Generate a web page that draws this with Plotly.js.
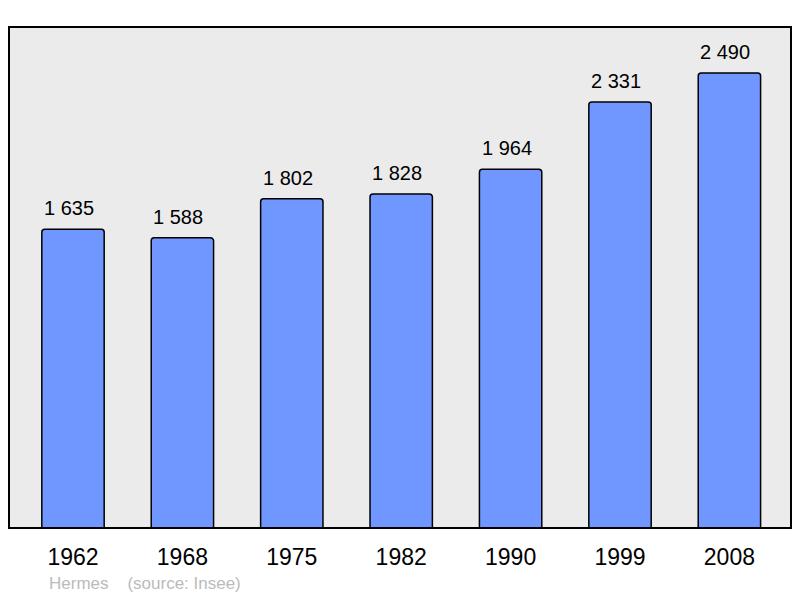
<!DOCTYPE html>
<html>
<head>
<meta charset="utf-8">
<script src="https://cdn.plot.ly/plotly-3.0.1.min.js"></script>
<style>html,body{margin:0;padding:0;background:#fff;}#chart{width:800px;height:598px;}</style>
</head>
<body>
<div id="chart"></div>
<script>
var years = ["1962", "1968", "1975", "1982", "1990", "1999", "2008"];
var population = [1635, 1588, 1802, 1828, 1964, 2331, 2490];
var valueLabels = ["1 635", "1 588", "1 802", "1 828", "1 964", "2 331", "2 490"];

var idx = years.map(function(_, i){ return i; });

var trace = {
  type: 'bar',
  x: idx,
  y: population,
  width: 0.57,
  marker: {color: '#7097ff', line: {color: '#000', width: 1.5}},
  hoverinfo: 'none'
};

var annotations = idx.map(function(i){
  return {x: i, y: population[i], xref: 'x', yref: 'y', text: valueLabels[i],
    showarrow: false, yanchor: 'bottom', yshift: 8, xshift: -4,
    font: {family: 'Liberation Sans, Arial, sans-serif', size: 20, color: '#000'}};
});
annotations.push({xref: 'paper', yref: 'paper', x: 0.0485, y: -0.1115, xanchor: 'left', yanchor: 'middle',
  text: 'Hermes\u00a0\u00a0\u00a0\u00a0(source: Insee)', showarrow: false,
  font: {family: 'Liberation Sans, Arial, sans-serif', size: 17, color: '#bbbbbb'}});

var layout = {
  width: 800, height: 598,
  margin: {l: 9, r: 9, t: 27, b: 70},
  paper_bgcolor: '#ffffff',
  plot_bgcolor: '#ebebeb',
  showlegend: false,
  barcornerradius: 3,
  xaxis: {
    range: [-0.585, 6.563],
    tickmode: 'array', tickvals: idx, ticktext: years,
    ticks: 'outside', ticklen: 8, tickcolor: 'rgba(0,0,0,0)',
    showgrid: false, zeroline: false, showline: false,
    tickfont: {family: 'Liberation Sans, Arial, sans-serif', size: 23, color: '#000'},
    fixedrange: true
  },
  yaxis: {
    range: [0, 2742],
    showticklabels: false, showgrid: false, zeroline: false, showline: false, ticks: '',
    fixedrange: true
  },
  shapes: [{type: 'rect', xref: 'paper', yref: 'paper', x0: 0, x1: 1, y0: 0, y1: 1,
    line: {color: '#000', width: 2}, fillcolor: 'rgba(0,0,0,0)', layer: 'above'}],
  annotations: annotations
};

Plotly.newPlot('chart', [trace], layout, {displayModeBar: false, staticPlot: true});
</script>
</body>
</html>
